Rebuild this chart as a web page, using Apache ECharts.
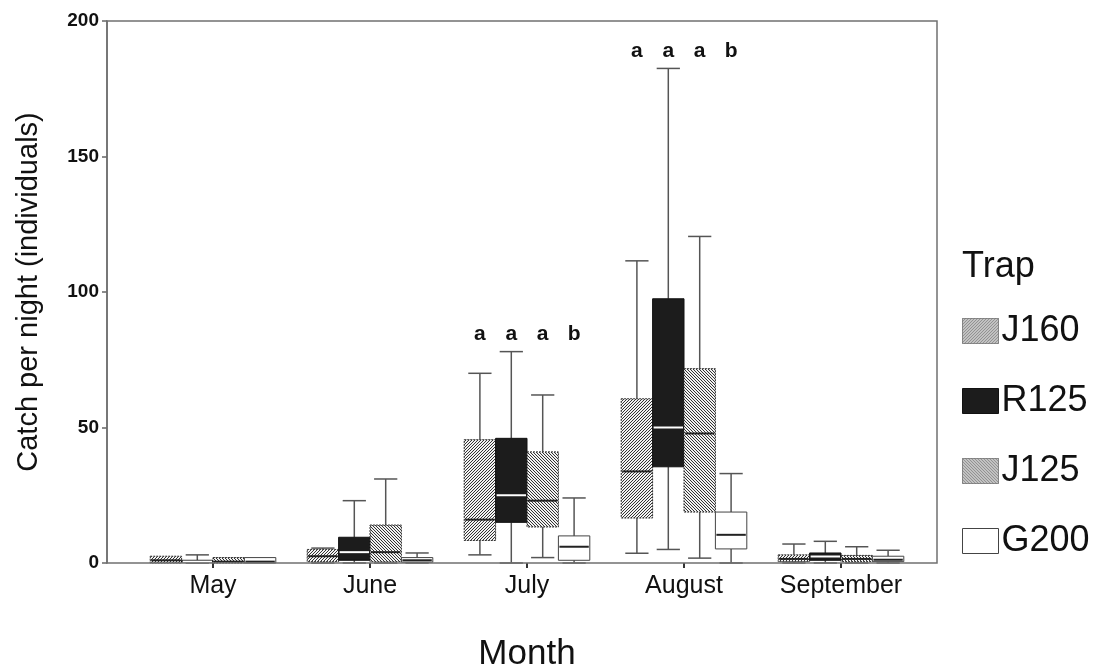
<!DOCTYPE html>
<html>
<head>
<meta charset="utf-8">
<script src="https://cdn.jsdelivr.net/npm/echarts@6/dist/echarts.min.js"></script>
<style>html,body{margin:0;padding:0;background:#fff}#c{width:1095px;height:670px}</style>
</head>
<body>
<div id="c"></div>
<script>
// ---- data ----
const months = ['May', 'June', 'July', 'August', 'September'];
const traps = ['J160', 'R125', 'J125', 'G200'];
// each entry: [min, q1, median, q3, max] per month
const J160 = [[0, 0, 1, 2.5, 2.5], [0, 0.5, 2.5, 5, 5.5], [3, 8.3, 16, 45.5, 70], [3.6, 16.6, 33.8, 60.6, 111.5], [0, 0.5, 1.5, 3, 7]];
const R125 = [[0, 0.3, 0.5, 1, 3], [0, 1, 4, 9.5, 23], [0, 15, 25, 46, 78], [5, 35.5, 50, 97.5, 182.5], [0, 1, 2.4, 3.7, 8]];
const J125 = [[0, 0, 0.5, 2, 2], [0, 0.5, 4, 14, 31], [2, 13.3, 23, 41, 62], [1.8, 18.8, 47.8, 71.7, 120.5], [0, 0.5, 1.5, 2.8, 6]];
const G200 = [[0, 0, 0.5, 2, 2], [0, 0.3, 1, 2, 3.7], [0, 1, 6, 10, 24], [0, 5.2, 10.4, 18.8, 33], [0, 0.5, 1.2, 2.5, 4.7]];
const sigLetters = [null, null, ['a', 'a', 'a', 'b'], ['a', 'a', 'a', 'b'], null];
const yTicks = [0, 50, 100, 150, 200];

// ---- styles ----
function hatch(dir) {
  const n = 3;
  const c = document.createElement('canvas');
  c.width = n; c.height = n;
  const g = c.getContext('2d');
  g.fillStyle = '#f2f2f2'; g.fillRect(0, 0, n, n);
  g.strokeStyle = '#333'; g.lineWidth = 1;
  g.beginPath();
  if (dir > 0) {
    g.moveTo(0, n); g.lineTo(n, 0);
    g.moveTo(-1, 1); g.lineTo(1, -1);
    g.moveTo(n - 1, n + 1); g.lineTo(n + 1, n - 1);
  } else {
    g.moveTo(0, 0); g.lineTo(n, n);
    g.moveTo(-1, n - 1); g.lineTo(1, n + 1);
    g.moveTo(n - 1, -1); g.lineTo(n + 1, 1);
  }
  g.stroke();
  return { image: c, repeat: 'repeat' };
}
const styles = [
  { fill: hatch(1), stroke: '#333', dash: [2, 1], med: '#222', lw: 1 },
  { fill: '#1c1c1c', stroke: '#111', dash: null, med: '#ffffff', lw: 1 },
  { fill: hatch(-1), stroke: '#333', dash: [2, 1], med: '#222', lw: 1 },
  { fill: '#ffffff', stroke: '#444', dash: null, med: '#222', lw: 1 }
];
const allData = [J160, R125, J125, G200];
const FONT = 'Liberation Sans, Arial, sans-serif';

function makeSeries(si) {
  const st = styles[si];
  return {
    name: traps[si],
    type: 'custom',
    itemStyle: { color: st.fill, borderColor: st.stroke },
    encode: { x: 0, y: [1, 2, 3, 4, 5] },
    data: allData[si].map((d, i) => [i].concat(d)),
    renderItem: function (params, api) {
      const cat = api.value(0);
      const band = api.size([1, 0])[0];
      const bw = band * 0.2;
      const cx = api.coord([cat, 0])[0] + (si - 1.5) * bw;
      const y = k => api.coord([cat, api.value(k)])[1];
      const yMin = y(1), yQ1 = y(2), yMed = y(3), yQ3 = y(4), yMax = y(5);
      const cw = bw * 0.74;
      const wStyle = { stroke: '#555', lineWidth: 1.5 };
      const children = [];
      if (yMax < yQ3 - 0.5) {
        children.push({ type: 'line', shape: { x1: cx, y1: yQ3, x2: cx, y2: yMax }, style: wStyle });
        children.push({ type: 'line', shape: { x1: cx - cw / 2, y1: yMax, x2: cx + cw / 2, y2: yMax }, style: wStyle });
      }
      if (yMin > yQ1 + 0.5) {
        children.push({ type: 'line', shape: { x1: cx, y1: yQ1, x2: cx, y2: yMin }, style: wStyle });
        children.push({ type: 'line', shape: { x1: cx - cw / 2, y1: yMin, x2: cx + cw / 2, y2: yMin }, style: wStyle });
      }
      children.push({
        type: 'rect',
        shape: { x: cx - bw / 2, y: yQ3, width: bw, height: Math.max(yQ1 - yQ3, 1) },
        style: { fill: st.fill, stroke: st.stroke, lineWidth: st.lw, lineDash: st.dash }
      });
      children.push({ type: 'line', shape: { x1: cx - bw / 2 + 1, y1: yMed, x2: cx + bw / 2 - 1, y2: yMed }, style: { stroke: st.med, lineWidth: 2 } });
      return { type: 'group', children: children };
    }
  };
}

const sigData = [];
sigLetters.forEach((letters, i) => {
  if (!letters) return;
  let m = 0;
  allData.forEach(arr => { m = Math.max(m, arr[i][4]); });
  sigData.push([i, m]);
});

const series = traps.map((t, i) => makeSeries(i));
series.push({
  name: 'sig',
  type: 'custom',
  silent: true,
  data: sigData,
  encode: { x: 0, y: 1 },
  renderItem: function (params, api) {
    const cat = api.value(0);
    const band = api.size([1, 0])[0];
    const bw = band * 0.2;
    const p = api.coord([cat, api.value(1)]);
    const letters = sigLetters[cat];
    return {
      type: 'group',
      children: letters.map((L, k) => ({
        type: 'text',
        style: {
          text: L, x: p[0] + (k - 1.5) * bw, y: p[1] - 17,
          align: 'center', verticalAlign: 'middle',
          font: 'bold 21px ' + FONT, fill: '#111'
        }
      }))
    };
  }
});

const chart = echarts.init(document.getElementById('c'), null, { renderer: 'canvas' });
const gridL = 134.5, gridR = 175.5, gridT = 21, gridB = 107;
chart.setOption({
  animation: false,
  backgroundColor: '#fff',
  grid: { left: gridL, right: gridR, top: gridT, bottom: gridB, containLabel: false, outerBoundsMode: 'none' },
  xAxis: {
    type: 'category',
    data: months,
    boundaryGap: true,
    axisLine: { show: false },
    axisTick: { show: true, alignWithLabel: true, length: 5, lineStyle: { color: '#333', width: 2 } },
    axisLabel: { fontSize: 25, color: '#111', fontFamily: FONT, margin: 11, interval: 0, hideOverlap: false },
    name: 'Month',
    nameLocation: 'middle',
    nameGap: 74,
    nameTextStyle: { fontSize: 35, color: '#111', fontFamily: FONT }
  },
  yAxis: {
    type: 'value',
    min: 0, max: 200, interval: 50,
    offset: gridL - 107,
    splitLine: { show: false },
    axisLine: { show: true, lineStyle: { color: '#666', width: 1.5 } },
    axisTick: { show: true, length: 5, lineStyle: { color: '#666', width: 1.5 } },
    axisLabel: { fontSize: 19, fontWeight: 'bold', color: '#111', fontFamily: FONT, margin: 8,
      formatter: v => (yTicks.indexOf(v) >= 0 ? String(v) : '') },
    name: 'Catch per night (individuals)',
    nameLocation: 'middle',
    nameGap: 64,
    nameTextStyle: { fontSize: 29, color: '#111', fontFamily: FONT }
  },
  title: {
    text: 'Trap', left: 957, top: 244,
    textStyle: { fontSize: 36, fontWeight: 'normal', color: '#111', fontFamily: FONT }
  },
  legend: {
    orient: 'vertical',
    left: 957, top: 308,
    itemWidth: 36, itemHeight: 25,
    itemGap: 34,
    icon: 'rect',
    textStyle: { fontSize: 36, color: '#111', fontFamily: FONT, padding: [0, 0, 0, -2] },
    data: traps.map((t, i) => ({
      name: t,
      itemStyle: { color: styles[i].fill, borderColor: styles[i].stroke, borderWidth: 1, borderType: styles[i].dash ? 'dotted' : 'solid' }
    }))
  },
  graphic: [{
    type: 'rect', silent: true, z: 100,
    shape: { x: 107, y: 21, width: 830, height: 542 },
    style: { fill: null, stroke: '#707070', lineWidth: 1.5 }
  }],
  series: series
});
</script>
</body>
</html>
